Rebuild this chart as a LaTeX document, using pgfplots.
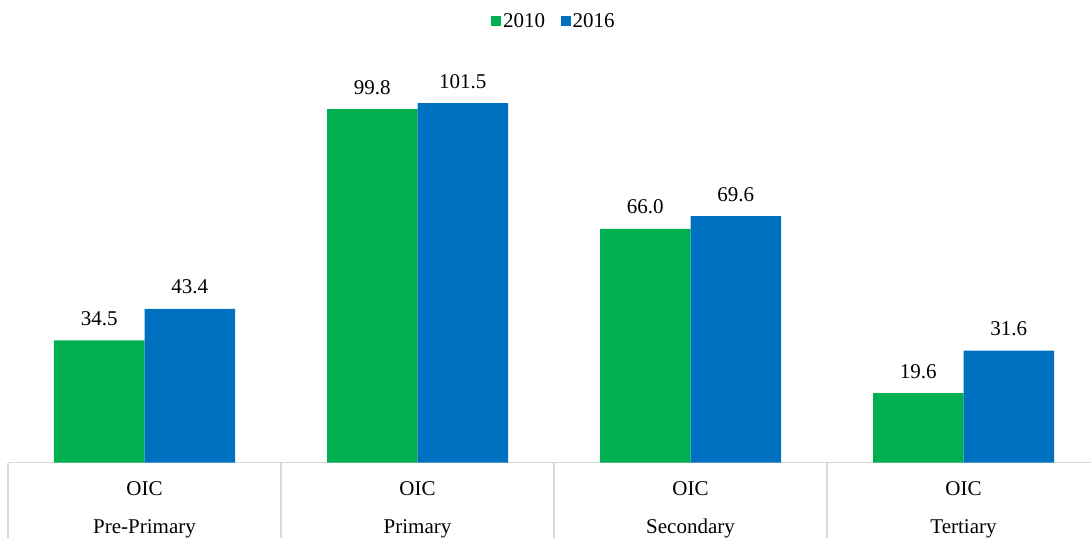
\documentclass[border=0pt]{standalone}
\usepackage{pgfplots}
\pgfplotsset{compat=1.18}
\usepackage{fontspec}
\setmainfont{Liberation Serif}
\definecolor{cgreen}{HTML}{00B050}
\definecolor{cblue}{HTML}{0070C0}
\definecolor{cgrid}{HTML}{D9D9D9}
\begin{document}
\begin{tikzpicture}
\begin{axis}[name=ax,
  scale only axis, width=1092pt, height=417.5pt,
  ymin=0, ymax=117.9, xmin=-0.5, xmax=3.5,
  ybar=0pt, bar width=90.5pt,
  axis y line=none, axis x line*=bottom,
  x axis line style={cgrid, line width=1.2pt, -},
  xtick={0,1,2,3}, major tick length=0pt,
  xticklabels={{OIC\\Pre-Primary},{OIC\\Primary},{OIC\\Secondary},{OIC\\Tertiary}},
  xticklabel style={align=center, font=\fontsize{21}{38}\selectfont, yshift=-16pt},
  /pgf/number format/assume math mode=true,
  /pgf/number format/fixed, /pgf/number format/fixed zerofill, /pgf/number format/precision=1,
  nodes near coords,
  every node near coord/.append style={font=\fontsize{21}{24}\selectfont, yshift=11pt},
  legend style={at={(0.5,1)}, anchor=center, yshift=24pt, draw=none, font=\fontsize{21}{24}\selectfont, /tikz/every even column/.append style={column sep=14pt}},
  legend columns=2,
  legend image code/.code={\fill[#1] (-1.5pt,-4.8pt) rectangle (8.1pt,4.8pt);},
  clip=false,
]
\addplot[fill=cgreen, draw=none] coordinates {(0,34.5) (1,99.8) (2,66.0) (3,19.6)};
\addplot[fill=cblue, draw=none] coordinates {(0,43.4) (1,101.5) (2,69.6) (3,31.6)};
\legend{2010,2016}
\foreach \x in {-0.5,0.5,1.5,2.5,3.5} {
  \edef\tmp{\noexpand\draw[cgrid, line width=1.2pt] (axis cs:\x,0) -- ++(0pt,-80pt);}\tmp
}
\end{axis}
\pgfresetboundingbox
\path[use as bounding box] ([shift={(-8pt,-74.5pt)}]ax.south west) rectangle ([shift={(-9pt,45pt)}]ax.north east);
\end{tikzpicture}
\end{document}
